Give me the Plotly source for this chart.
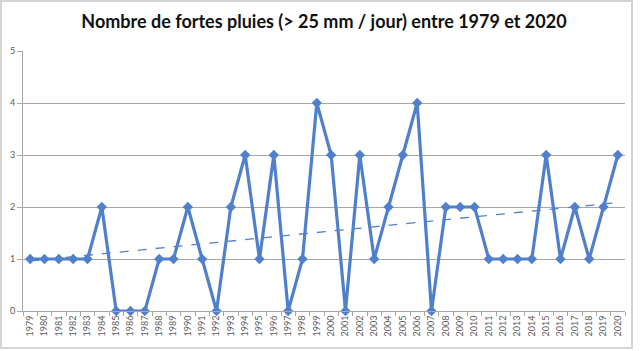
import numpy as np
import plotly.graph_objects as go

years = [str(y) for y in range(1979, 2021)]
values = [1, 1, 1, 1, 1, 2, 0, 0, 0, 1,
          1, 2, 1, 0, 2, 3, 1, 3, 0, 1,
          4, 3, 0, 3, 1, 2, 3, 4, 0, 2,
          2, 2, 1, 1, 1, 1, 3, 1, 2, 1,
          2, 3]
y_ticks = [0, 1, 2, 3, 4, 5]

color = "#5080cc"
idx = np.arange(len(values))
slope, intercept = np.polyfit(idx, values, 1)
trend = slope * idx + intercept

fig = go.Figure()
fig.add_trace(go.Scatter(x=years, y=trend, mode="lines",
                         line=dict(color=color, width=1.3, dash="dash"),
                         hoverinfo="skip", showlegend=False))
fig.add_trace(go.Scatter(x=years, y=values, mode="lines+markers",
                         line=dict(color=color, width=3.2),
                         marker=dict(symbol="diamond", size=8, color=color),
                         cliponaxis=False, showlegend=False))

L, R, T, B = 23, 15, 51, 40
W, H = 640, 351
pw, ph = W - L - R, H - T - B
def px(x):
    return (x - L) / pw
def py(y):
    return (H - B - y) / ph

fig.update_layout(
    width=W, height=H,
    margin=dict(l=L, r=R, t=T, b=B),
    paper_bgcolor="white", plot_bgcolor="white",
    title=dict(text="<b>Nombre de fortes pluies (> 25 mm / jour) entre 1979 et 2020</b>",
               x=0.5, xref="paper", y=1 - 22 / H, yanchor="middle",
               font=dict(family="Lato", size=18, color="#111111")),
    font=dict(family="Lato", size=9, color="#595959"),
    xaxis=dict(type="category", range=[-0.5, len(years) - 0.5], automargin=False,
               tickangle=-90, showgrid=False,
               ticks="outside", ticklen=4, tickcolor="#a6a6a6", tickson="boundaries",
               showline=True, linecolor="#a6a6a6", linewidth=1,
               tickfont=dict(size=9, color="#595959"), fixedrange=True),
    yaxis=dict(range=[0, 5], tickvals=y_ticks, automargin=False,
               showgrid=True, gridcolor="#a6a6a6",
               gridwidth=1, zeroline=False, showline=True, linecolor="#a6a6a6",
               ticks="outside", ticklen=5, tickcolor="#a6a6a6",
               tickfont=dict(size=9, color="#595959")),
    shapes=[dict(type="rect", xref="paper", yref="paper",
                 x0=px(1), x1=px(632), y0=py(348), y1=py(1),
                 line=dict(color="#d4d4d4", width=2), layer="below")],
)

fig.write_html("out.html")
